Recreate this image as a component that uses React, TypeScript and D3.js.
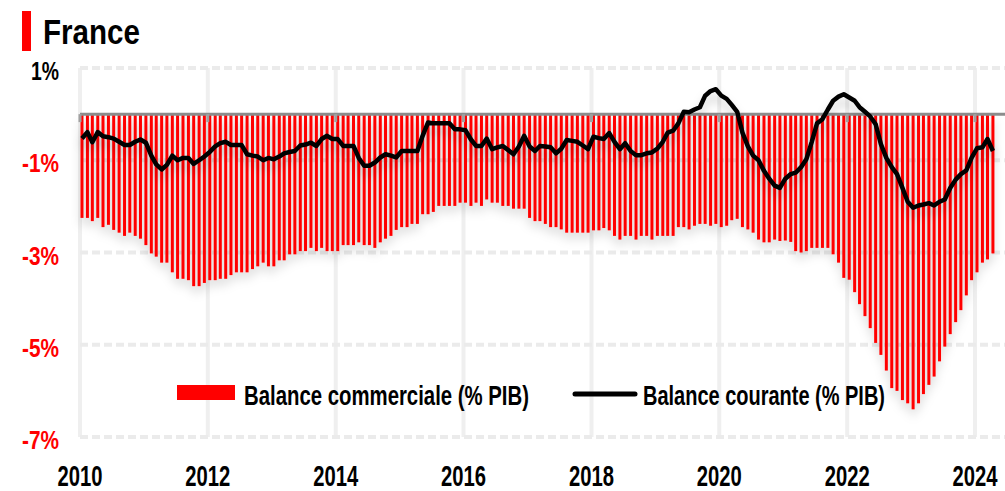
import React from "react";
import * as d3 from "d3";

const WIDTH = 1005;
const HEIGHT = 491;
const FONT = "'Liberation Sans', Arial, sans-serif";
const RED = "#ff0000";

// monthly, from Jan 2010
const START = new Date(2010, 0, 1);
const TRADE_BALANCE = [
  -2.25, -2.25, -2.32, -2.25, -2.45, -2.4, -2.51, -2.57, -2.64, -2.57, -2.64, -2.7,
  -2.84, -3.02, -3.09, -3.22, -3.22, -3.43, -3.57, -3.57, -3.6, -3.73, -3.73, -3.66,
  -3.6, -3.6, -3.57, -3.57, -3.49, -3.43, -3.43, -3.43, -3.36, -3.3, -3.22, -3.3,
  -3.3, -3.17, -3.17, -3.04, -3.04, -2.97, -2.97, -2.9, -2.97, -2.9, -2.97, -2.97,
  -2.97, -2.84, -2.84, -2.84, -2.78, -2.84, -2.84, -2.9, -2.78, -2.7, -2.64, -2.51,
  -2.45, -2.45, -2.38, -2.38, -2.17, -2.17, -2.12, -1.99, -1.99, -1.99, -1.99, -1.92,
  -1.92, -1.99, -1.92, -1.99, -1.85, -1.92, -1.92, -1.99, -1.99, -2.05, -2.05, -2.05,
  -2.25, -2.32, -2.32, -2.38, -2.45, -2.45, -2.5, -2.57, -2.57, -2.57, -2.57, -2.57,
  -2.52, -2.52, -2.47, -2.52, -2.64, -2.72, -2.64, -2.64, -2.72, -2.64, -2.64, -2.72,
  -2.64, -2.64, -2.64, -2.64, -2.45, -2.45, -2.5, -2.42, -2.38, -2.38, -2.42, -2.38,
  -2.45, -2.42, -2.3, -2.27, -2.45, -2.5, -2.57, -2.72, -2.78, -2.78, -2.72, -2.75,
  -2.74, -2.77, -2.97, -3.0, -2.97, -2.9, -2.9, -2.9, -2.9, -3.04, -3.22, -3.55,
  -3.59, -3.86, -4.12, -4.38, -4.64, -4.96, -5.22, -5.56, -5.94, -6.0, -6.2, -6.27,
  -6.4, -6.27, -6.07, -5.87, -5.69, -5.36, -5.04, -4.77, -4.51, -4.25, -3.93, -3.6,
  -3.43, -3.22, -3.15, -3.02,
];
const CURRENT_BALANCE = [
  -0.53, -0.39, -0.61, -0.39, -0.48, -0.5, -0.53, -0.6, -0.67, -0.67, -0.6, -0.55,
  -0.62, -0.9, -1.09, -1.2, -1.1, -0.9, -1.0, -0.95, -0.95, -1.08, -1.0, -0.92,
  -0.82, -0.7, -0.63, -0.6, -0.67, -0.67, -0.67, -0.87, -0.9, -0.92, -1.0, -0.95,
  -0.98, -0.92, -0.85, -0.82, -0.8, -0.68, -0.66, -0.62, -0.69, -0.54, -0.47, -0.54,
  -0.54, -0.69, -0.69, -0.69, -0.95, -1.12, -1.12, -1.05, -0.94, -0.87, -0.9, -0.94,
  -0.8, -0.8, -0.8, -0.8, -0.47, -0.18, -0.2, -0.2, -0.2, -0.2, -0.33, -0.33,
  -0.35, -0.55, -0.69, -0.69, -0.53, -0.76, -0.72, -0.69, -0.78, -0.87, -0.7, -0.47,
  -0.7, -0.8, -0.69, -0.7, -0.72, -0.85, -0.75, -0.56, -0.58, -0.6, -0.68, -0.76,
  -0.49, -0.52, -0.54, -0.41, -0.6, -0.76, -0.63, -0.8, -0.89, -0.89, -0.85, -0.83,
  -0.75, -0.6, -0.4, -0.36, -0.2, 0.05, 0.04, 0.1, 0.15, 0.4, 0.5, 0.54,
  0.4, 0.33, 0.2, 0.05, -0.4, -0.7, -0.9, -1.0, -1.23, -1.4, -1.55, -1.6,
  -1.4, -1.3, -1.27, -1.15, -0.98, -0.6, -0.2, -0.11, 0.1, 0.29, 0.38, 0.43,
  0.36, 0.29, 0.15, 0.05, -0.05, -0.22, -0.65, -0.95, -1.15, -1.3, -1.6, -1.9,
  -2.03, -1.98, -1.96, -1.93, -1.98, -1.9, -1.85, -1.6, -1.42, -1.3, -1.22, -0.95,
  -0.74, -0.72, -0.54, -0.8,
];
const Y_TICKS = [1, -1, -3, -5, -7];
const X_TICKS = [2010, 2012, 2014, 2016, 2018, 2020, 2022, 2024];
const TITLE = "France";
const LEGEND = ["Balance commerciale (% PIB)", "Balance courante (% PIB)"];

const LEFT = 80;
const RIGHT = 1005;
const X_SCALE = d3
  .scaleTime()
  .domain([new Date(2010, 0, 1), new Date(2024, 0, 1)])
  .range([LEFT, 975]);
const Y_SCALE = d3.scaleLinear().domain([1, -7]).range([68, 437]);
const months = TRADE_BALANCE.map((_, i) => d3.timeMonth.offset(START, i));
const BAR_W = 3;

const LINE = d3
  .line<number>()
  .x((d, i) => X_SCALE(months[i]) + 2)
  .y((d) => Y_SCALE(d))
  .curve(d3.curveLinear);

// narrow bold labels: squeeze glyphs to the measured width
const Label = ({ x, y, w, size, fill = "#000", anchor = "start", children }: any) => (
  <text
    x={x}
    y={y}
    fontFamily={FONT}
    fontWeight="bold"
    fontSize={size}
    fill={fill}
    textAnchor={anchor}
    textLength={w}
    lengthAdjust="spacingAndGlyphs"
  >
    {children}
  </text>
);

export default function App() {
  const zeroY = Y_SCALE(0);
  return (
    <svg
      width={WIDTH}
      height={HEIGHT}
      style={{ position: "absolute", left: 0, top: 0, display: "block" }}
    >
      <defs>
        <filter id="shadow" x="-5%" y="-10%" width="110%" height="130%">
          <feDropShadow dx="0" dy="7" stdDeviation="5" floodColor="#000" floodOpacity="0.18" />
        </filter>
      </defs>

      {/* title */}
      <rect x={22} y={11} width={9} height={40} fill={RED} />
      <Label x={43} y={44} w={97} size={35}>{TITLE}</Label>

      {/* grid */}
      {X_TICKS.map((yr) => (
        <line
          key={"v" + yr}
          x1={X_SCALE(new Date(yr, 0, 1))}
          x2={X_SCALE(new Date(yr, 0, 1))}
          y1={Y_SCALE(1)}
          y2={Y_SCALE(-7)}
          stroke="#efefef"
          strokeWidth={4}
        />
      ))}
      {Y_TICKS.map((v) => (
        <line
          key={"h" + v}
          x1={LEFT}
          x2={RIGHT}
          y1={Y_SCALE(v)}
          y2={Y_SCALE(v)}
          stroke="#ebebeb"
          strokeWidth={4}
          strokeDasharray="8 4"
        />
      ))}

      {/* trade balance bars */}
      <g filter="url(#shadow)">
        {TRADE_BALANCE.map((v, i) => (
          <rect
            key={i}
            x={X_SCALE(months[i]) + 0.5}
            y={zeroY}
            width={BAR_W}
            height={Y_SCALE(v) - zeroY}
            fill={RED}
          />
        ))}
      </g>

      {/* zero axis */}
      <line x1={LEFT} x2={RIGHT} y1={zeroY} y2={zeroY} stroke="#8c8c8c" strokeWidth={3} />
      {X_TICKS.map((yr) => (
        <line
          key={"t" + yr}
          x1={X_SCALE(new Date(yr, 0, 1))}
          x2={X_SCALE(new Date(yr, 0, 1))}
          y1={zeroY}
          y2={zeroY + 8}
          stroke="#a0a0a0"
          strokeWidth={3}
        />
      ))}

      {/* current account line */}
      <path
        d={LINE(CURRENT_BALANCE) || ""}
        fill="none"
        stroke="#000"
        strokeWidth={4.5}
        strokeLinejoin="round"
        filter="url(#shadow)"
      />

      {/* y labels */}
      {Y_TICKS.map((v) => (
        <Label
          key={"yl" + v}
          x={59}
          y={Y_SCALE(v) + 12}
          w={v > 0 ? 28 : 37}
          size={26}
          anchor="end"
          fill={v < 0 ? RED : "#000"}
        >
          {v + "%"}
        </Label>
      ))}

      {/* x labels */}
      {X_TICKS.map((yr) => (
        <Label key={"xl" + yr} x={X_SCALE(new Date(yr, 0, 1))} y={486} w={45} size={29} anchor="middle">
          {yr}
        </Label>
      ))}

      {/* legend */}
      <rect x={177} y={385} width={58} height={15} fill={RED} />
      <Label x={244} y={405} w={285} size={28}>{LEGEND[0]}</Label>
      <line x1={575} x2={635} y1={394} y2={394} stroke="#000" strokeWidth={5} strokeLinecap="round" />
      <Label x={643} y={405} w={242} size={28}>{LEGEND[1]}</Label>
    </svg>
  );
}
